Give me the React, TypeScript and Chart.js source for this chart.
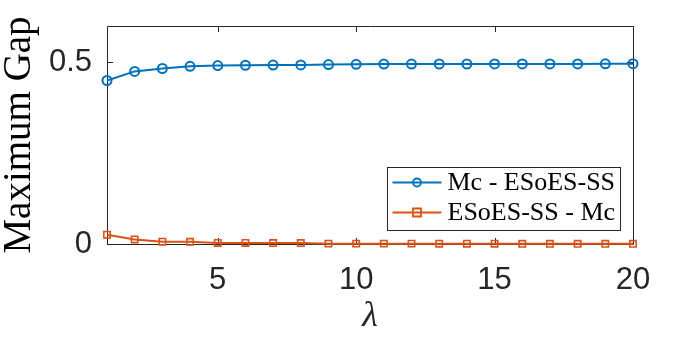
import React, { useEffect, useRef } from "react";
import { Chart, registerables } from "chart.js";

Chart.register(...registerables);

const lambdas = [1, 2, 3, 4, 5, 6, 7, 8, 9, 10, 11, 12, 13, 14, 15, 16, 17, 18, 19, 20];
const mcMinusEsoes = [0.45, 0.475, 0.483, 0.489, 0.491, 0.492, 0.4926, 0.4927, 0.4937, 0.4945, 0.4953, 0.4953, 0.4954, 0.4954, 0.4955, 0.4955, 0.4956, 0.4957, 0.4958, 0.4964];
const esoesMinusMc = [0.0255, 0.0126, 0.0063, 0.006, 0.003, 0.003, 0.0025, 0.0025, 0.001, 0.001, 0.001, 0.001, 0.0008, 0.0008, 0.0008, 0.0006, 0.0006, 0.0005, 0.0005, 0.0005];
const xTickValues = [5, 10, 15, 20];
const yTickValues = [0, 0.5];
const seriesLabels = ["Mc - ESoES-SS", "ESoES-SS - Mc"];
const xTitle = "λ";
const yTitle = "Maximum Gap";

const BLUE = "#0072BD";
const ORANGE = "#D95319";
const AXIS = "#262626";

function drawMarker(ctx: CanvasRenderingContext2D, style: string, x: number, y: number, r: number, color: string) {
  ctx.save();
  ctx.strokeStyle = color;
  ctx.lineWidth = 1.8;
  ctx.beginPath();
  if (style === "circle") {
    ctx.arc(x, y, r, 0, Math.PI * 2);
  } else {
    ctx.rect(x - r, y - r, 2 * r, 2 * r);
  }
  ctx.stroke();
  ctx.restore();
}

const framePlugin = {
  id: "matlabFrame",
  beforeDatasetsDraw(chart: any) {
    const { ctx, chartArea } = chart;
    const { left, right, top, bottom } = chartArea;
    const xs = chart.scales.x;
    const ys = chart.scales.y;
    ctx.save();
    ctx.strokeStyle = AXIS;
    ctx.lineWidth = 1;
    ctx.beginPath();
    ctx.rect(Math.round(left) + 0.5, Math.round(top) + 0.5, Math.round(right - left), Math.round(bottom - top));
    ctx.stroke();
    const tl = 6;
    ctx.beginPath();
    xs.ticks.forEach((t: any) => {
      const px = Math.round(xs.getPixelForValue(t.value)) + 0.5;
      ctx.moveTo(px, bottom);
      ctx.lineTo(px, bottom - tl);
      ctx.moveTo(px, top);
      ctx.lineTo(px, top + tl);
    });
    ys.ticks.forEach((t: any) => {
      const py = Math.round(ys.getPixelForValue(t.value)) + 0.5;
      ctx.moveTo(left, py);
      ctx.lineTo(left + tl, py);
      ctx.moveTo(right, py);
      ctx.lineTo(right - tl, py);
    });
    ctx.stroke();
    ctx.restore();
  },
  afterDraw(chart: any) {
    const { ctx, chartArea } = chart;
    const boxRight = chartArea.right - 13;
    const boxBottom = chartArea.bottom - 14;
    const boxW = 233;
    const boxH = 63;
    const bx = Math.round(boxRight - boxW) + 0.5;
    const by = Math.round(boxBottom - boxH) + 0.5;
    ctx.save();
    ctx.fillStyle = "#ffffff";
    ctx.fillRect(bx, by, boxW, boxH);
    ctx.strokeStyle = AXIS;
    ctx.lineWidth = 1;
    ctx.strokeRect(bx, by, boxW, boxH);
    ctx.font = "26px 'Liberation Serif', 'Times New Roman', serif";
    ctx.textBaseline = "middle";
    ctx.fillStyle = "#000000";
    chart.data.datasets.forEach((ds: any, i: number) => {
      const cy = by + 15 + i * 30;
      const x0 = bx + 5;
      const x1 = bx + 54;
      ctx.strokeStyle = ds.borderColor;
      ctx.lineWidth = 2;
      ctx.beginPath();
      ctx.moveTo(x0, cy);
      ctx.lineTo(x1, cy);
      ctx.stroke();
      drawMarker(ctx, ds.pointStyle === "circle" ? "circle" : "rect", (x0 + x1) / 2, cy, 4, ds.borderColor);
      ctx.fillStyle = "#000000";
      ctx.fillText(ds.label, bx + 60, cy + 1);
    });
    ctx.restore();
  },
};

export default function App() {
  const canvasRef = useRef<HTMLCanvasElement | null>(null);

  useEffect(() => {
    if (!canvasRef.current) return;
    const chart = new Chart(canvasRef.current, {
      type: "line",
      data: {
        labels: lambdas,
        datasets: [
          {
            label: seriesLabels[0],
            data: lambdas.map((x, i) => ({ x, y: mcMinusEsoes[i] })),
            borderColor: BLUE,
            backgroundColor: "rgba(0,0,0,0)",
            borderWidth: 2,
            pointStyle: "circle",
            pointRadius: 4.5,
            pointBorderWidth: 2,
            pointBackgroundColor: "rgba(0,0,0,0)",
            pointBorderColor: BLUE,
            clip: false,
          } as any,
          {
            label: seriesLabels[1],
            data: lambdas.map((x, i) => ({ x, y: esoesMinusMc[i] })),
            borderColor: ORANGE,
            backgroundColor: "rgba(0,0,0,0)",
            borderWidth: 2,
            pointStyle: "rect",
            pointRadius: 4.5,
            pointBorderWidth: 1.6,
            pointBackgroundColor: "rgba(0,0,0,0)",
            pointBorderColor: ORANGE,
            clip: false,
          } as any,
        ],
      },
      options: {
        responsive: false,
        animation: false,
        layout: { padding: { top: 26, right: 67, left: 0, bottom: 0 } },
        plugins: {
          legend: { display: false },
          tooltip: { enabled: false },
        },
        scales: {
          x: {
            type: "linear",
            min: 1,
            max: 20,
            grid: { display: false, drawTicks: false },
            border: { display: false },
            afterBuildTicks: (scale: any) => {
              scale.ticks = xTickValues.map((v) => ({ value: v }));
            },
            afterFit: (scale: any) => {
              scale.height = 98;
              scale.paddingLeft = 0;
              scale.paddingRight = 0;
            },
            ticks: {
              color: AXIS,
              padding: 18,
              maxRotation: 0,
              font: { family: "'Liberation Sans', Arial, sans-serif", size: 31 },
              callback: (v: any) => String(v),
            },
            title: {
              display: true,
              text: xTitle,
              color: AXIS,
              font: { family: "'Liberation Serif', 'Times New Roman', serif", size: 36, style: "italic", lineHeight: 1 },
              padding: { top: 0, bottom: 7 },
            },
          },
          y: {
            type: "linear",
            min: 0,
            max: 0.6,
            grid: { display: false, drawTicks: false },
            border: { display: false },
            afterBuildTicks: (scale: any) => {
              scale.ticks = yTickValues.map((v) => ({ value: v }));
            },
            afterFit: (scale: any) => {
              scale.width = 107;
              scale.paddingTop = 0;
              scale.paddingBottom = 0;
            },
            ticks: {
              color: AXIS,
              padding: 15,
              font: { family: "'Liberation Sans', Arial, sans-serif", size: 31 },
              callback: (v: any) => String(v),
            },
            title: {
              display: true,
              text: yTitle,
              color: "#000000",
              font: { family: "'Liberation Serif', 'Times New Roman', serif", size: 39, lineHeight: 1 },
              padding: { top: 0, bottom: 0 },
            },
          },
        },
      },
      plugins: [framePlugin],
    });
    return () => chart.destroy();
  }, []);

  return (
    <div style={{ position: "fixed", left: 0, top: 0, width: 700, height: 342, background: "#ffffff" }}>
      <canvas ref={canvasRef} width={700} height={342} style={{ display: "block", width: 700, height: 342 }} />
    </div>
  );
}
